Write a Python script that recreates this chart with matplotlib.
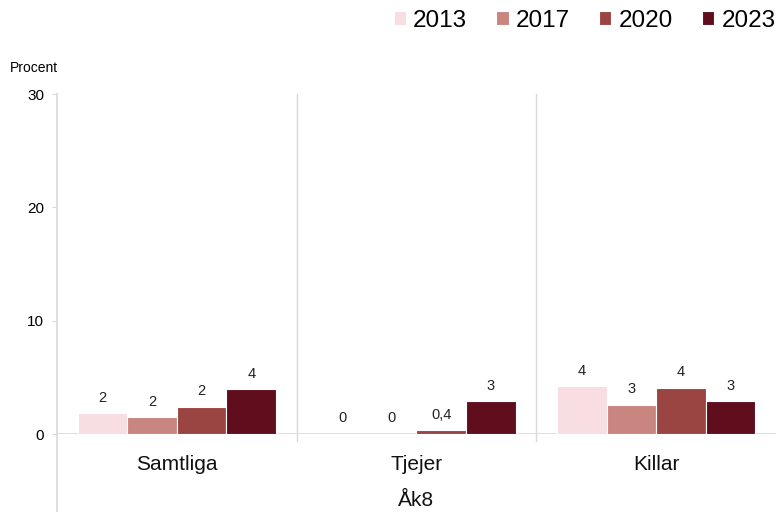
import matplotlib
matplotlib.use("Agg")
import matplotlib.pyplot as plt
import numpy as np

categories = ["Samtliga", "Tjejer", "Killar"]
years = ["2013", "2017", "2020", "2023"]
values = {
    "2013": [1.85, 0.0, 4.2],
    "2017": [1.5, 0.0, 2.6],
    "2020": [2.4, 0.35, 4.1],
    "2023": [3.95, 2.9, 2.9],
}
labels = {
    "2013": ["2", "0", "4"],
    "2017": ["2", "0", "3"],
    "2020": ["2", "0,4", "4"],
    "2023": ["4", "3", "3"],
}
colors = {"2013": "#F8DEE2", "2017": "#C98580", "2020": "#9B4543", "2023": "#600D1E"}
group_label = "Åk8"
yticks = [0, 10, 20, 30]

plt.rcParams["font.family"] = ["Liberation Sans", "DejaVu Sans"]

fig = plt.figure(figsize=(7.76, 5.12), dpi=100)
ax = fig.add_axes([57/776, 78/512, (776-57)/776, (434-94)/512])

x = np.arange(len(categories))
w = 0.207
grid_c = "#D9D9D9"
for i, y in enumerate(years):
    pos = x + (i - 1.5) * w
    ax.bar(pos, values[y], width=w, color=colors[y], edgecolor="white",
           linewidth=0.8, label=y, zorder=3)
    for p, v, lab in zip(pos, values[y], labels[y]):
        ax.text(p, v + 0.75, lab, ha="center", va="bottom", fontsize=10.5, color="#222222")

ax.set_xlim(-0.5, 2.5)
ax.set_ylim(0, 30)
ax.set_yticks(yticks)
ax.set_yticklabels([str(t) for t in yticks], fontsize=11)
ax.tick_params(axis="y", length=3.6, color=grid_c, pad=5.5)
ax.set_xticks([])
for s in ["top", "right", "left", "bottom"]:
    ax.spines[s].set_visible(False)

ax.axhline(0, color=grid_c, lw=1.2, zorder=2)
ax.axvline(-0.5, ymin=-0.25, ymax=1, color=grid_c, lw=1.2, clip_on=False)
for xs in [0.5, 1.5]:
    ax.axvline(xs, ymin=-0.02, ymax=1, color=grid_c, lw=1.0, clip_on=False)

trans = ax.get_xaxis_transform()
for xi, c in zip(x, categories):
    ax.text(xi, -0.09, c, transform=trans, ha="center", va="center",
            fontsize=15, color="#111111")
ax.text(1, -0.195, group_label, transform=trans, ha="center", va="center",
        fontsize=15, color="#111111")

fig.text(10/776, 1 - 68/512, "Procent", fontsize=10, va="center", ha="left")

fig.legend(loc="center right", bbox_to_anchor=(1.012, 1 - 21/512), ncol=4,
           frameon=False, fontsize=17.5, handlelength=0.5, handleheight=0.5,
           handletextpad=0.3, columnspacing=1.2, borderaxespad=0)

fig.savefig("out.png", dpi=100)
